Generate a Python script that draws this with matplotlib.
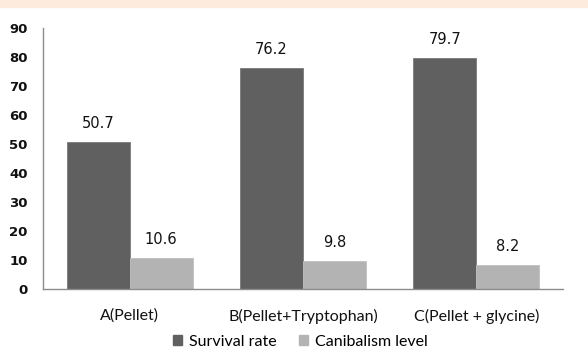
import matplotlib
matplotlib.use("Agg")
import matplotlib.pyplot as plt
import matplotlib.patches as mpatches
import numpy as np

groups = ["A(Pellet)", "B(Pellet+Tryptophan)", "C(Pellet + glycine)"]
survival = [50.7, 76.2, 79.7]
canibalism = [10.6, 9.8, 8.2]
yticks = [0, 10, 20, 30, 40, 50, 60, 70, 80, 90]

fig = plt.figure(figsize=(5.88, 3.61), dpi=100)
# peach strip along the top edge
fig.patches.append(mpatches.Rectangle((0, 1 - 7 / 361), 1, 7 / 361, transform=fig.transFigure,
                                      color="#fdecde", zorder=0))
ax = fig.add_axes([43 / 588, 1 - 289 / 361, 520 / 588, 261 / 361])

x = np.arange(len(groups))
w = 0.364
b1 = ax.bar(x - w / 2, survival, w, color="#606060", edgecolor="#7a7a7a", linewidth=0.6)
b2 = ax.bar(x + w / 2, canibalism, w, color="#b3b3b3", edgecolor="#c0c0c0", linewidth=0.6)

for bars, vals in ((b1, survival), (b2, canibalism)):
    for r, v in zip(bars, vals):
        ax.text(r.get_x() + r.get_width() / 2, v + 3.8, f"{v}", ha="center", va="bottom",
                fontsize=10.5, color="#111111", family="DejaVu Sans")

ax.set_xlim(-0.5, 2.5)
ax.set_ylim(0, 90)
ax.set_yticks(yticks)
ax.set_yticklabels([str(t) for t in yticks], fontsize=9.5, fontweight="bold", color="#111111")
ax.set_xticks(x)
ax.set_xticklabels(groups, fontsize=11.5, family="Lato", color="#111111")
ax.tick_params(axis="both", length=0)
ax.tick_params(axis="y", pad=11)
ax.tick_params(axis="x", pad=14)
for s in ("top", "right"):
    ax.spines[s].set_visible(False)
for s in ("left", "bottom"):
    ax.spines[s].set_color("#8c8c8c")
    ax.spines[s].set_linewidth(1.0)

handles = [mpatches.Patch(color="#606060", label="Survival rate"),
           mpatches.Patch(color="#b3b3b3", label="Canibalism level")]
fig.legend(handles=handles, loc="center", bbox_to_anchor=(300 / 588, 1 - 342 / 361), ncol=2,
           frameon=False, prop={"family": "Lato", "size": 11.5}, handlelength=0.6, handleheight=0.6,
           handletextpad=0.4, columnspacing=1.4)

fig.savefig("out.png", dpi=100, facecolor="white")
